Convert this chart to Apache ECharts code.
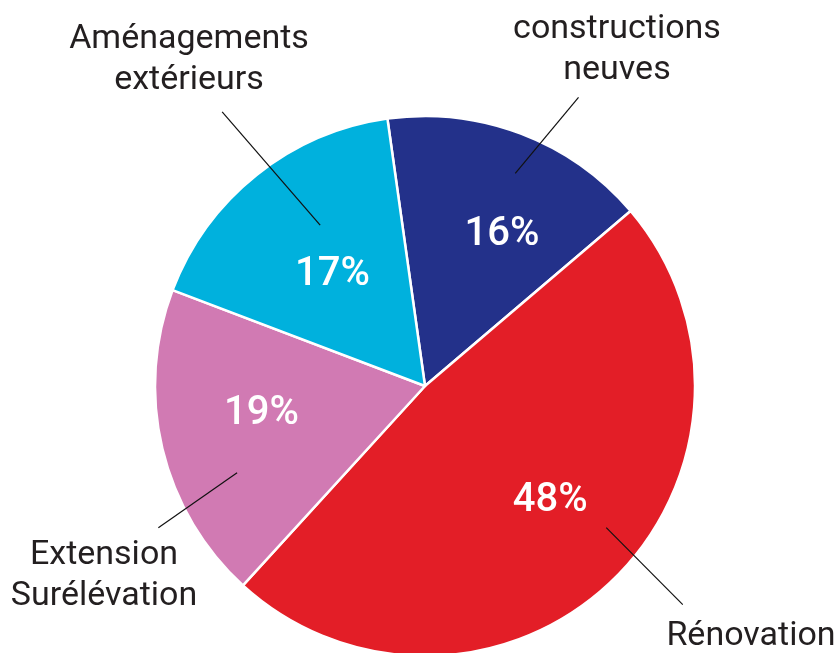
<!DOCTYPE html>
<html>
<head>
<meta charset="utf-8">
<script src="https://cdn.jsdelivr.net/npm/echarts@6/dist/echarts.min.js"></script>
<style>
html,body{margin:0;padding:0;background:#fff;}
#chart{width:840px;height:653px;}
</style>
</head>
<body>
<div id="chart"></div>
<script>
// Data
var categories = ['constructions neuves', 'Rénovation', 'Extension Surélévation', 'Aménagements extérieurs'];
var labelTexts = ['constructions\nneuves', 'Rénovation', 'Extension\nSurélévation', 'Aménagements\nextérieurs'];
var values = [16, 48, 19, 17];
var colors = ['#23318A', '#E31E27', '#D17AB3', '#00B1DD'];

// Layout (annotation placement)
var CX = 425, CY = 386, R = 270;
var labelPos = [[617, 50], [751, 636], [104, 576], [189, 60]];
var pctOffset = [[18, 4], [10, -4], [-2, -10], [11, 19]];
// leader lines in polar terms: [angle deg clockwise from top, distance from centre]
var leader = [
  [[23, 231], [28, 327]],
  [[128, 230], [130.3, 338]],
  [[245.2, 207], [242, 302]],
  [[326.9, 192], [323.5, 341]]
];
function polar(p) {
  var a = p[0] * Math.PI / 180;
  return [CX + p[1] * Math.sin(a), CY - p[1] * Math.cos(a)];
}

var chart = echarts.init(document.getElementById('chart'), null, {renderer: 'canvas'});
var pieData = categories.map(function (c, i) {
  return {name: c, value: values[i], itemStyle: {color: colors[i]}};
});
var pctData = categories.map(function (c, i) {
  return {name: c, value: values[i], label: {offset: pctOffset[i]}};
});
var plainData = categories.map(function (c, i) {
  return {name: c, value: values[i]};
});

chart.setOption({
  animation: false,
  textStyle: {fontFamily: 'Roboto'},
  series: [
    {
      type: 'pie',
      center: [CX, CY],
      radius: [0, R],
      startAngle: 98,
      clockwise: true,
      silent: true,
      itemStyle: {borderColor: '#ffffff', borderWidth: 2.5},
      label: {show: false},
      labelLine: {show: false},
      data: pieData
    },
    {
      type: 'pie',
      center: [CX, CY],
      radius: [0, 326],
      startAngle: 98,
      clockwise: true,
      silent: true,
      itemStyle: {color: 'rgba(0,0,0,0)', borderWidth: 0},
      label: {
        show: true,
        position: 'inside',
        formatter: '{d}%',
        color: '#ffffff',
        fontSize: 40,
        fontWeight: 500,
        fontFamily: 'Roboto'
      },
      labelLine: {show: false},
      data: pctData
    },
    {
      type: 'pie',
      center: [CX, CY],
      radius: [0, R],
      startAngle: 98,
      clockwise: true,
      avoidLabelOverlap: false,
      silent: true,
      z: 5,
      itemStyle: {color: 'rgba(0,0,0,0)', borderWidth: 0},
      label: {
        show: true,
        position: 'outside',
        formatter: function (p) { return labelTexts[p.dataIndex]; },
        color: '#231F20',
        fontSize: 34,
        lineHeight: 41,
        fontFamily: 'Roboto',
        align: 'center'
      },
      labelLine: {show: true, lineStyle: {color: '#111111', width: 1.2}},
      labelLayout: function (params) {
        var i = params.dataIndex;
        return {
          x: labelPos[i][0],
          y: labelPos[i][1],
          align: 'center',
          verticalAlign: 'middle',
          labelLinePoints: [polar(leader[i][0]), polar(leader[i][1]), polar(leader[i][1])]
        };
      },
      data: plainData
    }
  ]
});
</script>
</body>
</html>
